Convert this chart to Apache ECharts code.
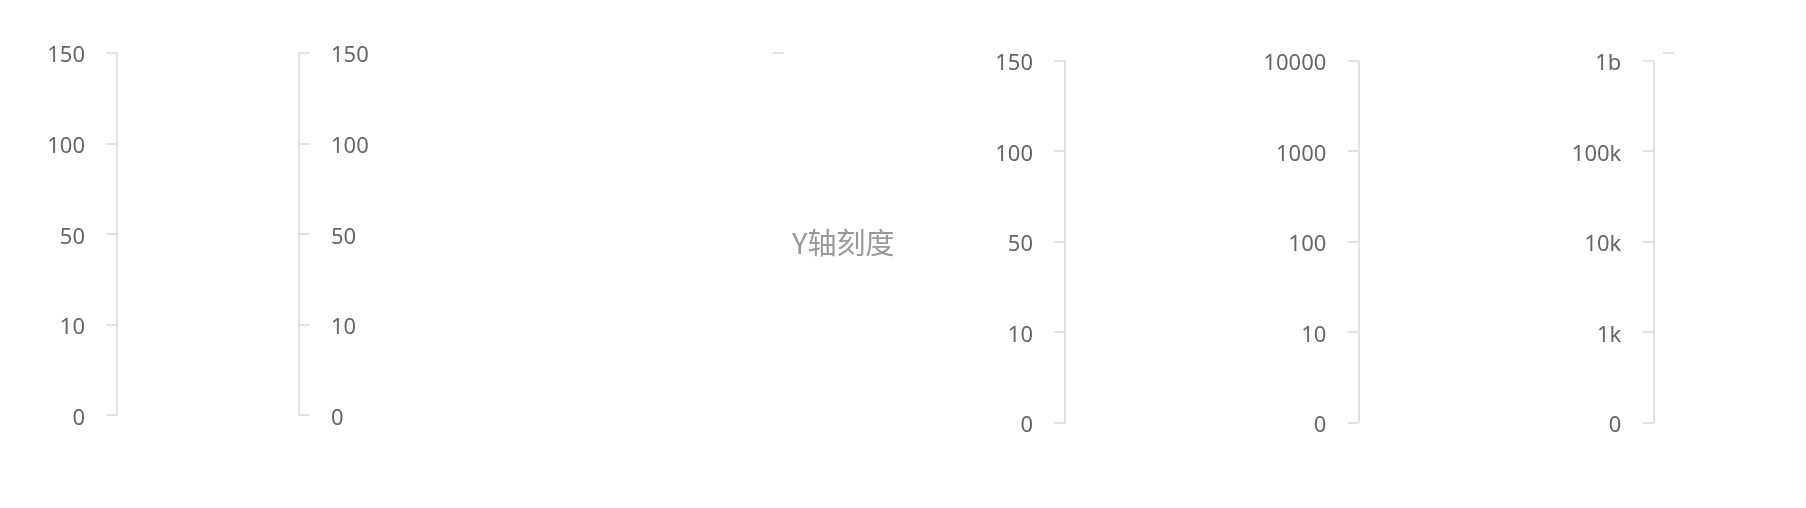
<!DOCTYPE html>
<html>
<head>
<meta charset="utf-8">
<script src="https://cdn.jsdelivr.net/npm/echarts@6/dist/echarts.min.js"></script>
<style>
html,body{margin:0;padding:0;background:#fff;}
#main{width:1806px;height:508px;}
</style>
</head>
<body>
<div id="main"></div>
<script>
// Tick labels (bottom -> top) of each demo axis
const linearTicks = ['0', '10', '50', '100', '150'];
const logTicks = ['0', '10', '100', '1000', '10000'];
const unitTicks = ['0', '1k', '10k', '100k', '1b'];
const titleText = 'Y轴刻度';

const FONT = '"Noto Sans", "Noto Sans CJK SC", sans-serif';
const CJK = '"Noto Sans CJK SC", sans-serif';
const LINE = '#D9D9D9';
const LABEL = '#666666';

const chart = echarts.init(document.getElementById('main'), null, {renderer: 'canvas'});

// panel layout
const panels = [
  {left: 117, top: 52.7, height: 362.3, pos: 'left', data: linearTicks},
  {left: 199, top: 52.7, height: 362.3, pos: 'right', data: linearTicks},
  {left: 1065, top: 60.7, height: 362, pos: 'left', data: linearTicks},
  {left: 1358.3, top: 60.7, height: 362, pos: 'left', data: logTicks},
  {left: 1653.3, top: 60.7, height: 362, pos: 'left', data: unitTicks}
];
// lone tick marks (axes without extent)
const stubs = [
  {left: 784, top: 52.7},
  {left: 1674, top: 52.7}
];

const grid = [], xAxis = [], yAxis = [];
panels.forEach((p, i) => {
  grid.push({left: p.left, top: p.top, height: p.height, width: 100});
  xAxis.push({gridIndex: i, show: false, type: 'value'});
  yAxis.push({
    gridIndex: i,
    type: 'category',
    position: p.pos,
    boundaryGap: false,
    data: p.data,
    axisLine: {show: true, onZero: false, lineStyle: {color: LINE, width: 1.5}},
    axisTick: {show: true, length: 10.5, lineStyle: {color: LINE, width: 1.5}},
    axisLabel: {
      show: true, margin: 32, color: LABEL, fontSize: 22, fontFamily: FONT,
      formatter: v => '{a|' + v + '}',
      rich: {a: {color: LABEL, fontSize: 22, fontFamily: FONT, lineHeight: 26, padding: [7, 0, 0, 0]}}
    },
    splitLine: {show: false}
  });
});
stubs.forEach((s, j) => {
  const i = panels.length + j;
  grid.push({left: s.left, top: s.top, height: 0.01, width: 50});
  xAxis.push({gridIndex: i, show: false, type: 'value'});
  yAxis.push({
    gridIndex: i,
    type: 'value',
    min: 0, max: 1, interval: 1,
    position: 'left',
    axisLine: {show: false, onZero: false},
    axisTick: {show: true, length: 11, lineStyle: {color: LINE, width: 1.5}},
    axisLabel: {show: false},
    splitLine: {show: false}
  });
});

chart.setOption({
  backgroundColor: '#ffffff',
  animation: false,
  title: {
    text: titleText,
    left: 792,
    top: 228,
    padding: 0,
    textStyle: {color: '#999999', fontSize: 29, fontWeight: 'normal', fontFamily: CJK}
  },
  grid: grid,
  xAxis: xAxis,
  yAxis: yAxis,
  series: []
});
</script>
</body>
</html>
